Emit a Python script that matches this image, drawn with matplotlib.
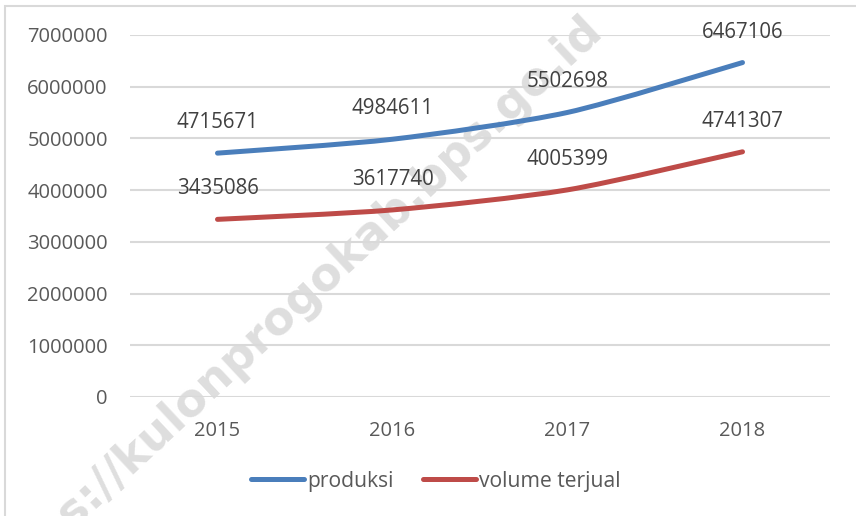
import matplotlib
matplotlib.use("Agg")
import matplotlib.pyplot as plt
from matplotlib.path import Path
from matplotlib.patches import PathPatch, Rectangle
from matplotlib.lines import Line2D

years = ["2015", "2016", "2017", "2018"]
produksi = [4715671, 4984611, 5502698, 6467106]
volume_terjual = [3435086, 3617740, 4005399, 4741307]
series_names = ["produksi", "volume terjual"]
colors = ["#4a7ebb", "#be4b48"]

TEXT = "#595959"
GRID = "#d9d9d9"
FONT = "Open Sans"


def smooth_path(xs, ys, k=8):
    # bezier through the points, like excel's smoothed line
    pts = list(zip(xs, ys))
    verts = [pts[0]]
    codes = [Path.MOVETO]
    n = len(pts)
    for i in range(n - 1):
        p0 = pts[i - 1] if i > 0 else pts[i]
        p1 = pts[i]
        p2 = pts[i + 1]
        p3 = pts[i + 2] if i + 2 < n else pts[i + 1]
        c1 = (p1[0] + (p2[0] - p0[0]) / k, p1[1] + (p2[1] - p0[1]) / k)
        c2 = (p2[0] - (p3[0] - p1[0]) / k, p2[1] - (p3[1] - p1[1]) / k)
        verts += [c1, c2, p2]
        codes += [Path.CURVE4] * 3
    return Path(verts, codes)


fig = plt.figure(figsize=(8.56, 5.16), dpi=100)
ax = fig.add_axes([130 / 856, 1 - 397 / 516, 700 / 856, 362 / 516])
ax.patch.set_visible(False)

# frame around chart
fig.patches.append(Rectangle((5 / 856, -0.1), 2.0, 1 - 6 / 516 + 0.1,
                             transform=fig.transFigure, fill=False,
                             edgecolor="#d9d9d9", linewidth=1.5, zorder=-2))

x = list(range(len(years)))
for vals, col in zip([produksi, volume_terjual], colors):
    patch = PathPatch(smooth_path(x, vals), fill=False, edgecolor=col,
                      linewidth=3.6, capstyle="round", joinstyle="round", zorder=3)
    ax.add_patch(patch)
    for xi, v in zip(x, vals):
        ax.annotate(str(v), (xi, v), xytext=(0, 22), textcoords="offset points",
                    ha="center", va="center", fontsize=14.8, color="#404040",
                    family=FONT, zorder=4)

ax.set_xlim(-0.5, len(years) - 0.5)
ax.set_ylim(0, 7000000)
ax.set_yticks(range(0, 7000001, 1000000))
ax.set_yticklabels([str(v) for v in range(0, 7000001, 1000000)])
ax.set_xticks(x)
ax.set_xticklabels(years)
ax.grid(axis="y", color=GRID, linewidth=1.5)
ax.set_axisbelow(True)
for s in ax.spines.values():
    s.set_visible(False)
ax.tick_params(length=0, labelsize=14.5, labelcolor=TEXT)
ax.tick_params(axis="y", pad=16)
ax.tick_params(axis="x", pad=17)
for lab in ax.get_xticklabels() + ax.get_yticklabels():
    lab.set_family(FONT)

handles = [Line2D([0], [0], color=c, linewidth=3.6, solid_capstyle="round") for c in colors]
fig.legend(handles, series_names, loc="center", bbox_to_anchor=(436 / 856, 1 - 481 / 516),
           ncol=2, frameon=False, handlelength=2.5, handletextpad=0.15, columnspacing=1.4,
           prop={"family": FONT, "size": 15.2}, labelcolor=TEXT)

# watermark, behind the chart
fig.text(604 / 856, 1 - 32 / 516, "https://kulonprogokab.bps.go.id", rotation=43,
         rotation_mode="anchor", ha="right", va="baseline", fontsize=33,
         fontweight="bold", color="#d6d6d6", alpha=0.8, zorder=-1,
         family="DejaVu Sans")

fig.savefig("out.png", dpi=100)
